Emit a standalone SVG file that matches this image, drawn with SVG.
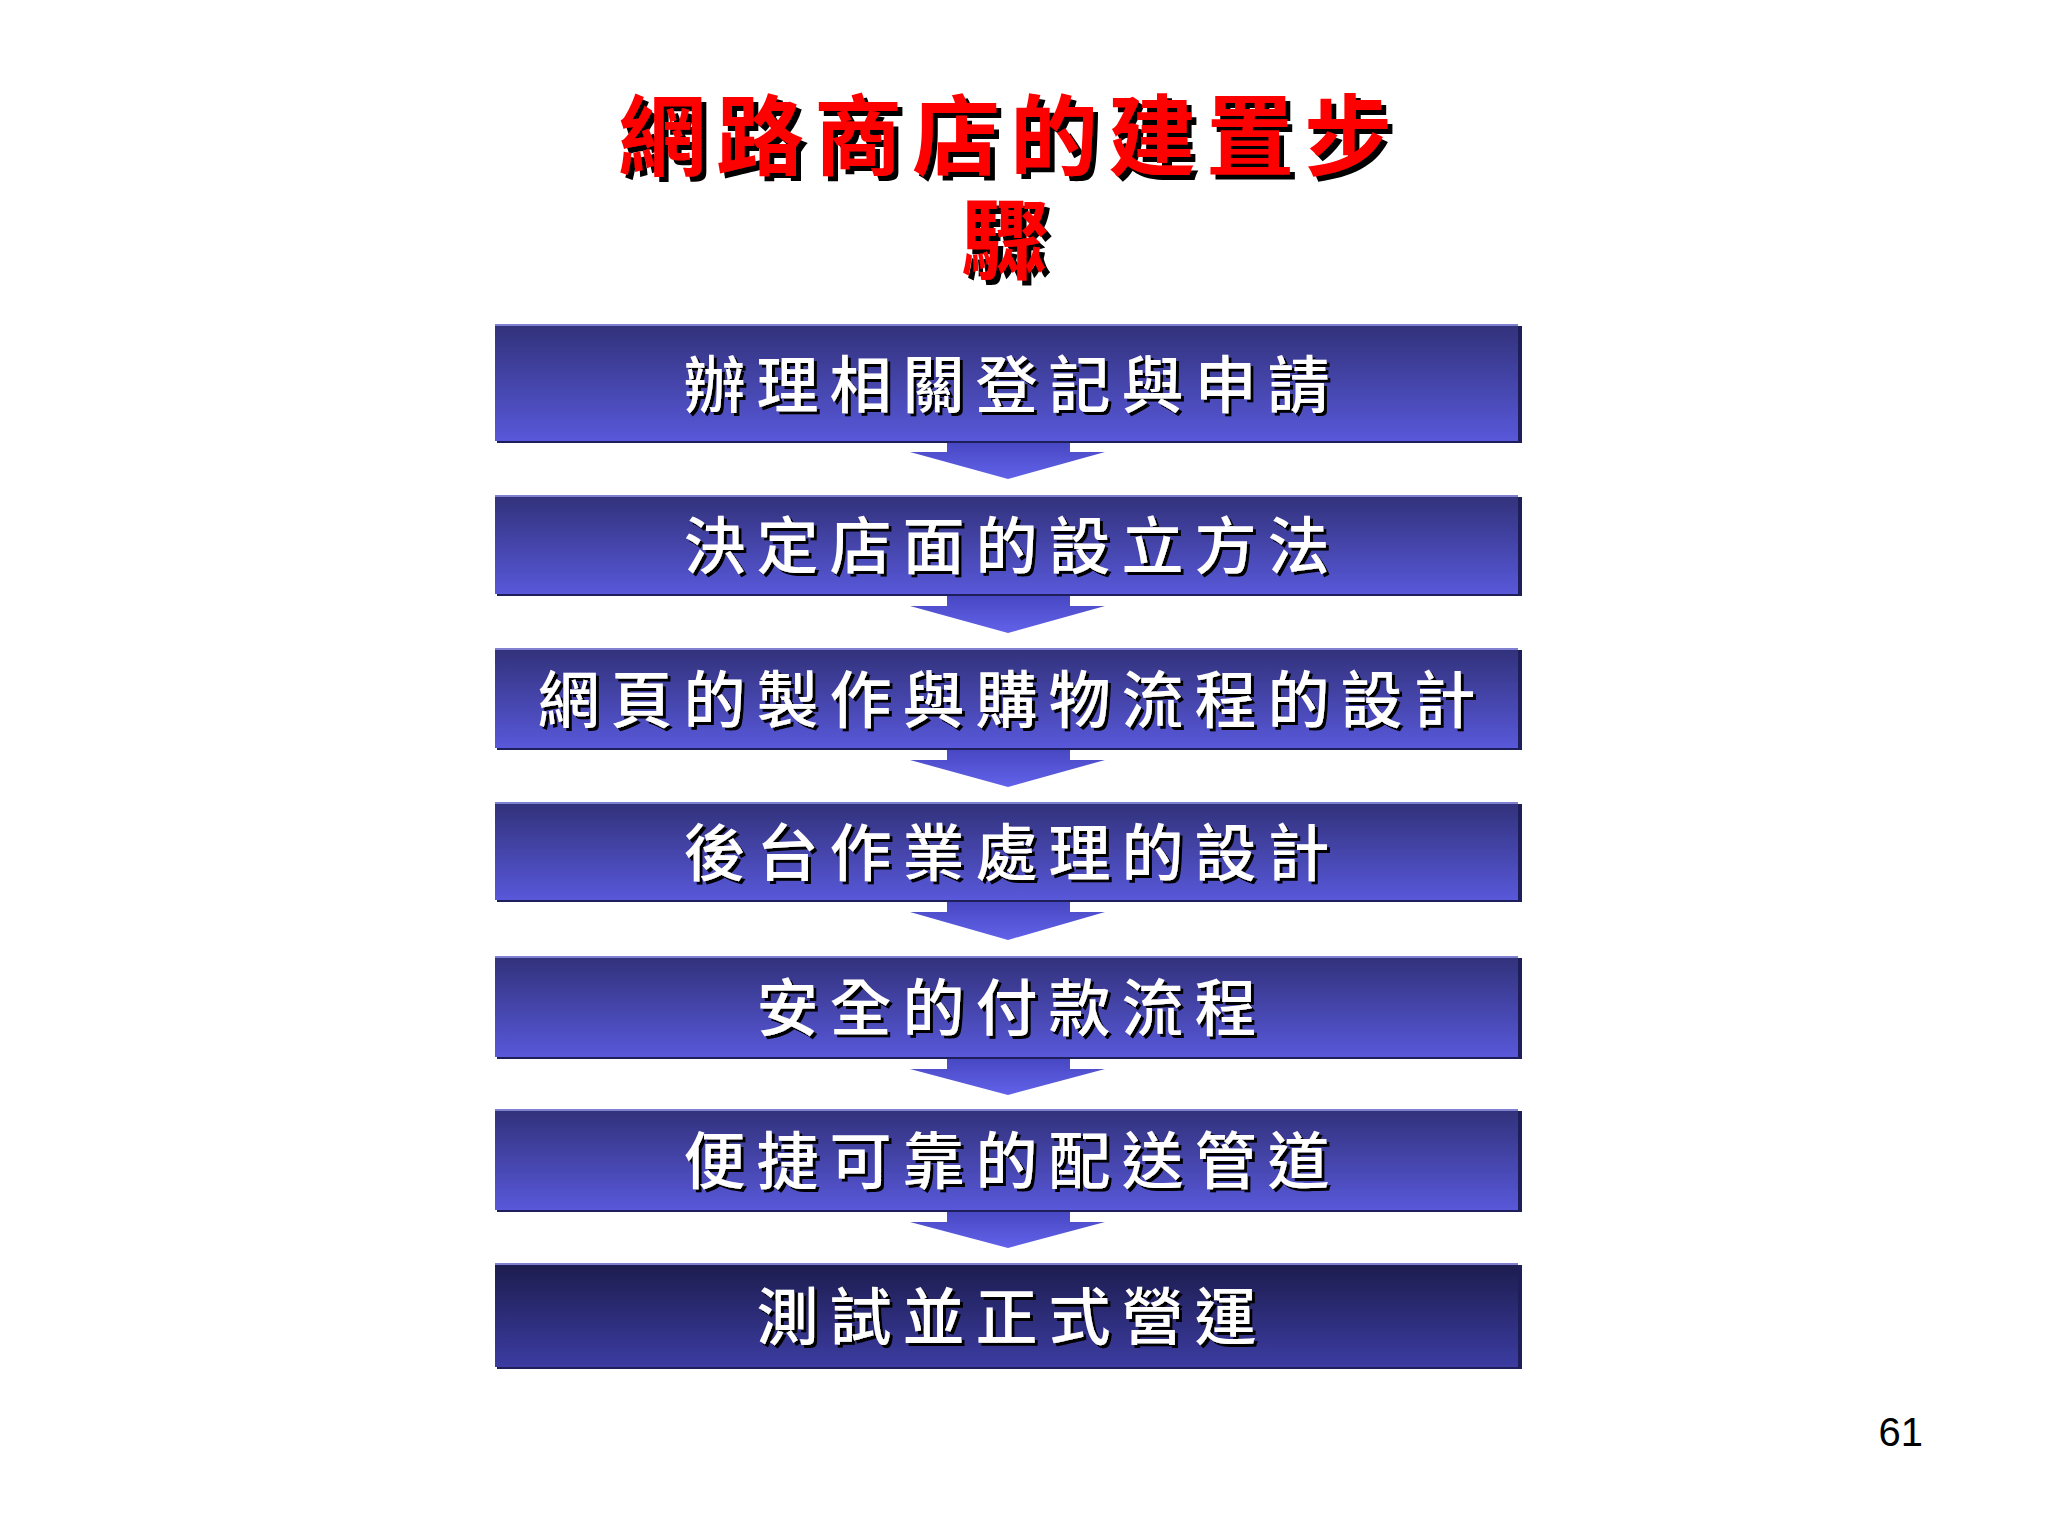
<svg xmlns="http://www.w3.org/2000/svg" width="2048" height="1536" viewBox="0 0 2048 1536">
<defs>
<linearGradient id="gBox" x1="0" y1="0" x2="0" y2="1">
<stop offset="0" stop-color="#31317a"/>
<stop offset="1" stop-color="#5858da"/>
</linearGradient>
<linearGradient id="gLast" x1="0" y1="0" x2="0" y2="1">
<stop offset="0" stop-color="#1c1c4e"/>
<stop offset="1" stop-color="#3c3ca2"/>
</linearGradient>
<linearGradient id="gArrow" x1="0" y1="0" x2="0" y2="1">
<stop offset="0" stop-color="#4646c0"/>
<stop offset="1" stop-color="#6262ea"/>
</linearGradient>
<filter id="shT" x="-10%" y="-20%" width="120%" height="150%">
<feDropShadow dx="5" dy="5" stdDeviation="0" flood-color="#000000" flood-opacity="1"/>
</filter>
<filter id="shB" x="-10%" y="-20%" width="120%" height="150%">
<feDropShadow dx="3" dy="3" stdDeviation="0" flood-color="#000000" flood-opacity="1"/>
</filter>
<style>
.title{font-family:"Noto Sans CJK TC","Noto Sans CJK SC",sans-serif;font-weight:700;font-size:88px;letter-spacing:10px;text-anchor:middle;dominant-baseline:central;fill:#ff0000;filter:url(#shT)}
.t{font-family:"Noto Sans CJK TC","Noto Sans CJK SC",sans-serif;font-weight:500;font-size:62px;letter-spacing:11px;text-anchor:middle;dominant-baseline:central;fill:#ffffff;filter:url(#shB)}
.shadow{fill:#1e1e5a}
.hl{fill:#8080d0}
.arrow{fill:url(#gArrow)}
</style>
</defs>
<rect width="2048" height="1536" fill="#ffffff"/>

<g id="title">
<text class="title" x="1010" y="129">網路商店的建置步</text>
<text class="title" x="1010" y="233">驟</text>
</g>

<g id="connectors">
<path class="arrow" d="M947,440 H1070 V452 H1105 L1008,479 L910,452 H947 Z"/>
<path class="arrow" d="M947,593 H1070 V606 H1105 L1008,633 L910,606 H947 Z"/>
<path class="arrow" d="M947,747 H1070 V760 H1105 L1008,787 L910,760 H947 Z"/>
<path class="arrow" d="M947,899 H1070 V912 H1105 L1008,940 L910,912 H947 Z"/>
<path class="arrow" d="M947,1056 H1070 V1069 H1105 L1008,1095 L910,1069 H947 Z"/>
<path class="arrow" d="M947,1209 H1070 V1222 H1105 L1008,1248 L910,1222 H947 Z"/>
</g>

<g id="node1">
<rect class="shadow" x="497" y="326" width="1025" height="117"/>
<rect x="495" y="324" width="1023" height="117" fill="url(#gBox)"/>
<rect class="hl" x="495" y="324" width="1023" height="2"/>
<text class="t" x="1012" y="381">辦理相關登記與申請</text>
</g>

<g id="node2">
<rect class="shadow" x="497" y="497" width="1025" height="99"/>
<rect x="495" y="495" width="1023" height="99" fill="url(#gBox)"/>
<rect class="hl" x="495" y="495" width="1023" height="2"/>
<text class="t" x="1012" y="542">決定店面的設立方法</text>
</g>

<g id="node3">
<rect class="shadow" x="497" y="650" width="1025" height="100"/>
<rect x="495" y="648" width="1023" height="100" fill="url(#gBox)"/>
<rect class="hl" x="495" y="648" width="1023" height="2"/>
<text class="t" x="1012" y="696">網頁的製作與購物流程的設計</text>
</g>

<g id="node4">
<rect class="shadow" x="497" y="804" width="1025" height="98"/>
<rect x="495" y="802" width="1023" height="98" fill="url(#gBox)"/>
<rect class="hl" x="495" y="802" width="1023" height="2"/>
<text class="t" x="1012" y="849">後台作業處理的設計</text>
</g>

<g id="node5">
<rect class="shadow" x="497" y="958" width="1025" height="101"/>
<rect x="495" y="956" width="1023" height="101" fill="url(#gBox)"/>
<rect class="hl" x="495" y="956" width="1023" height="2"/>
<text class="t" x="1012" y="1004">安全的付款流程</text>
</g>

<g id="node6">
<rect class="shadow" x="497" y="1111" width="1025" height="101"/>
<rect x="495" y="1109" width="1023" height="101" fill="url(#gBox)"/>
<rect class="hl" x="495" y="1109" width="1023" height="2"/>
<text class="t" x="1012" y="1157">便捷可靠的配送管道</text>
</g>

<g id="node7">
<rect class="shadow" x="497" y="1265" width="1025" height="104"/>
<rect x="495" y="1263" width="1023" height="104" fill="url(#gLast)"/>
<rect class="hl" x="495" y="1263" width="1023" height="2"/>
<text class="t" x="1012" y="1313">測試並正式營運</text>
</g>

<text x="1923" y="1446" font-family="Liberation Sans, Arial, sans-serif" font-size="40" text-anchor="end" fill="#000000">61</text>
</svg>
